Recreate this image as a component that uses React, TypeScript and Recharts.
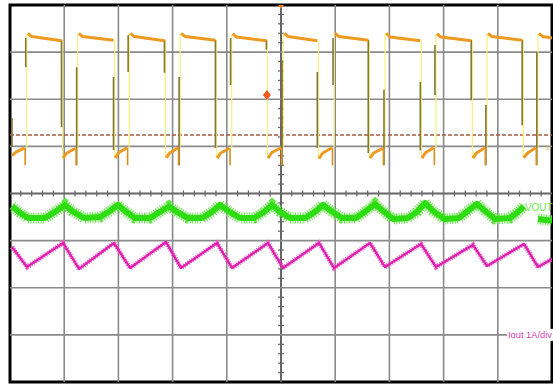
import React from 'react';
import { ComposedChart, Line, XAxis, YAxis, ReferenceLine, ReferenceDot, ReferenceArea } from 'recharts';

// Units: time in screen divisions (0..10), amplitude in divisions (-4..4)
const xTicks = [1, 2, 3, 4, 5, 6, 7, 8, 9];
const yTicks = [-3, -2, -1, 0, 1, 2, 3];

// CH1 switch node (orange)
const risingEdges = [0.31, 1.25, 2.2, 3.14, 4.09, 5.04, 5.98, 6.92, 7.86, 8.8, 9.74];
const fallingEdges = [0.96, 1.92, 2.86, 3.8, 4.74, 5.68, 6.62, 7.58, 8.52, 9.46];
const highStart = [3.4, 3.4, 3.4, 3.4, 3.39, 3.4, 3.4, 3.4, 3.39, 3.4, 3.4];
const highMid = [3.33, 3.33, 3.33, 3.33, 3.32, 3.33, 3.33, 3.32, 3.32, 3.33, 3.33];
const highEnd = [3.24, 3.25, 3.24, 3.25, 3.24, 3.24, 3.25, 3.24, 3.24, 3.25, 3.3];
const lowStart = [0.8, 0.75, 0.75, 0.76, 0.75, 0.75, 0.74, 0.75, 0.75, 0.75, 0.76];
const lowMid = [0.88, 0.86, 0.87, 0.86, 0.86, 0.87, 0.86, 0.86, 0.87, 0.86, 0.86];
const lowEnd = [0.97, 0.96, 0.97, 0.97, 0.96, 0.97, 0.97, 0.96, 0.97, 0.97, 0.97];
const spikeLow = 0.6;
// partial (dim) transition traces: [top, bottom]
const riseDark = [[3.3, 2.68], [2.68, 0.6], [3.36, 2.58], [2.47, 0.6], [3.3, 2.3], [2.83, 0.6], [3.3, 2.3], [2.2, 0.6], [3.15, 2.09], [1.88, 0.6], [3.0, 0.6]];
const fallDark = [[3.26, 1.41], [2.47, 0.92], [3.26, 2.56], [3.26, 0.97], [3.26, 3.05], [2.58, 0.97], [3.26, 0.86], [2.37, 0.92], [3.26, 1.98], [3.26, 1.45]];
const ch1Ground = 1.24;
const triggerMarker = { x: 4.74, y: 2.09 };

// VOUT (green)
const voutX = [0.037, 0.185, 0.332, 0.646, 0.83, 1.015, 1.144, 1.365, 1.661, 1.845, 1.993, 2.122, 2.306, 2.583, 2.768, 2.934, 3.081, 3.284, 3.542, 3.727, 3.875, 4.022, 4.244, 4.502, 4.686, 4.834, 4.982, 5.166, 5.443, 5.627, 5.775, 5.923, 6.125, 6.384, 6.568, 6.734, 6.882, 7.066, 7.343, 7.509, 7.657, 7.804, 8.007, 8.284, 8.45, 8.616, 8.764, 8.948, 9.225, 9.373, 9.483, 9.6, 9.742, 10.0];
const voutY = [-0.27, -0.41, -0.52, -0.52, -0.39, -0.24, -0.37, -0.52, -0.5, -0.37, -0.24, -0.37, -0.52, -0.52, -0.39, -0.27, -0.39, -0.52, -0.52, -0.39, -0.24, -0.37, -0.52, -0.52, -0.39, -0.24, -0.39, -0.52, -0.52, -0.39, -0.24, -0.37, -0.52, -0.52, -0.37, -0.22, -0.37, -0.54, -0.52, -0.39, -0.2, -0.37, -0.54, -0.52, -0.37, -0.22, -0.37, -0.54, -0.52, -0.39, -0.27, null, -0.54, -0.58];

// Iout (magenta)
const ioutX = [0.037, 0.314, 0.978, 1.273, 1.919, 2.214, 2.878, 3.155, 3.819, 4.096, 4.76, 5.037, 5.701, 5.978, 6.642, 6.919, 7.583, 7.86, 8.542, 8.801, 9.483, 9.742, 10.0];
const ioutY = [-1.135, -1.56, -1.05, -1.6, -1.05, -1.58, -1.03, -1.58, -1.05, -1.58, -1.05, -1.58, -1.05, -1.58, -1.05, -1.56, -1.07, -1.56, -1.09, -1.54, -1.07, -1.56, -1.39];

const labels = { vout: 'VOUT', iout: 'Iout 1A/div', ch1: '1' };

type P = { x: number; y: number | null };

function orangeLevels(): P[] {
  const pts: P[] = [];
  for (let i = 0; i < risingEdges.length; i++) {
    const start = i === 0 ? 0.04 : fallingEdges[i - 1] + 0.02;
    const r = risingEdges[i];
    pts.push({ x: start, y: lowStart[i] }, { x: start + 0.07, y: lowMid[i] }, { x: r - 0.04, y: lowEnd[i] }, { x: r - 0.035, y: null });
    const f = i < fallingEdges.length ? fallingEdges[i] - 0.01 : 10;
    pts.push({ x: r + 0.02, y: highStart[i] }, { x: r + 0.09, y: highMid[i] }, { x: f, y: highEnd[i] }, { x: f + 0.005, y: null });
  }
  return pts;
}

function segs(list: [number, number, number][]): P[] {
  const pts: P[] = [];
  list.forEach(([x, a, b]) => {
    pts.push({ x, y: a }, { x: x + 0.0001, y: b }, { x: x + 0.0002, y: null });
  });
  return pts;
}

const yellowData = segs([
  ...risingEdges.map((r, i) => [r, lowEnd[i], highStart[i]] as [number, number, number]),
  ...fallingEdges.map((f, i) => [f + 0.01, highEnd[i], lowStart[i + 1]] as [number, number, number]),
]);
const darkData = segs([
  ...riseDark.map((d, i) => [risingEdges[i] - 0.02, d[0], d[1]] as [number, number, number]),
  ...fallDark.map((d, i) => [fallingEdges[i] - 0.01, d[0], d[1]] as [number, number, number]),
  [0.037, 1.6, 0.99],
]);
const spikeData = segs(risingEdges.map((r, i) => [r - 0.03, lowEnd[i], spikeLow] as [number, number, number]));
const orangeData = orangeLevels();
const voutData: P[] = voutX.map((x, i) => ({ x, y: voutY[i] }));
const ioutData: P[] = ioutX.map((x, i) => ({ x, y: ioutY[i] }));

const minor: number[] = [];
for (let k = 1; k < 50; k++) if (k % 5 !== 0) minor.push(k / 5);
const minorY: number[] = [];
for (let k = -19; k < 20; k++) if (k % 5 !== 0) minorY.push(k / 5);

const FONT = '"Liberation Sans", Arial, sans-serif';

export default function App() {
  return (
    <div style={{ position: 'absolute', left: 0, top: 0, width: 553, height: 387, background: '#fff' }}>
      <ComposedChart width={553} height={387} margin={{ top: 5, right: 1, bottom: 5, left: 10 }}>
        <XAxis type="number" dataKey="x" domain={[0, 10]} hide allowDataOverflow />
        <YAxis type="number" domain={[-4, 4]} hide allowDataOverflow />
        {xTicks.map((t) => (
          <ReferenceLine key={'gx' + t} x={t} stroke={t === 5 ? '#666' : '#8a8a8a'} strokeWidth={t === 5 ? 2 : 1.6} />
        ))}
        {yTicks.map((t) => (
          <ReferenceLine key={'gy' + t} y={t} stroke={t === 0 ? '#666' : '#8a8a8a'} strokeWidth={t === 0 ? 2 : 1.6}
            segment={t === -3 ? [{ x: 0, y: t }, { x: 9.17, y: t }] : undefined} />
        ))}
        {minor.map((t) => (
          <ReferenceLine key={'mx' + t} segment={[{ x: t, y: -0.065 }, { x: t, y: 0.065 }]} stroke="#666" strokeWidth={1.2} />
        ))}
        {minorY.map((t) => (
          <ReferenceLine key={'my' + t} segment={[{ x: 4.945, y: t }, { x: 5.055, y: t }]} stroke="#666" strokeWidth={1.2} />
        ))}
        <ReferenceLine y={ch1Ground} stroke="#a85a40" strokeWidth={1.4} strokeDasharray="4 2" />
        <Line data={yellowData} dataKey="y" stroke="#f6ef80" strokeWidth={1.2} dot={false} activeDot={false} isAnimationActive={false} connectNulls={false} />
        <Line data={darkData} dataKey="y" stroke="#857738" strokeWidth={1.6} dot={false} activeDot={false} isAnimationActive={false} connectNulls={false} />
        <Line data={spikeData} dataKey="y" stroke="#d98f1c" strokeWidth={1.6} dot={false} activeDot={false} isAnimationActive={false} connectNulls={false} />
        <Line data={orangeData} dataKey="y" stroke="#ee9a22" strokeWidth={3} dot={false} activeDot={false} isAnimationActive={false} connectNulls={false} strokeLinejoin="round" />
        <Line data={voutData} dataKey="y" stroke="#5ee840" strokeWidth={11} strokeDasharray="1 1.5" dot={false} activeDot={false} isAnimationActive={false} connectNulls={false} />
        <Line data={voutData} dataKey="y" stroke="#2edc12" strokeWidth={6} dot={false} activeDot={false} isAnimationActive={false} connectNulls={false} strokeLinejoin="round" />
        <Line data={ioutData} dataKey="y" stroke="#ee60c8" strokeWidth={5} strokeDasharray="1 1.5" dot={false} activeDot={false} isAnimationActive={false} />
        <Line data={ioutData} dataKey="y" stroke="#e020b0" strokeWidth={2.4} dot={false} activeDot={false} isAnimationActive={false} strokeLinejoin="round" />
        <ReferenceDot x={triggerMarker.x} y={triggerMarker.y} r={5} isFront
          shape={(p: any) => (
            <polygon points={`${p.cx},${p.cy - 5} ${p.cx + 4},${p.cy} ${p.cx},${p.cy + 5} ${p.cx - 4},${p.cy}`} fill="#f05a1e" />
          )} />
        <ReferenceDot x={5} y={4} r={3} isFront
          shape={(p: any) => (
            <polygon points={`${p.cx - 3},${p.cy} ${p.cx + 3},${p.cy} ${p.cx},${p.cy + 4}`} fill="#f07a1e" />
          )} />
        <ReferenceDot x={9.5} y={-0.29} r={2} isFront
          shape={(p: any) => (
            <text x={p.cx} y={p.cy} dy={4} fontSize={10} fontFamily={FONT} fill="#6fe64a">{labels.vout}</text>
          )} />
        <ReferenceDot x={9.17} y={-3} r={2} isFront
          shape={(p: any) => (
            <g>
              <rect x={p.cx} y={p.cy - 6} width={46} height={12} fill="#fff" />
              <text x={p.cx + 1} y={p.cy} dy={3.5} fontSize={9} fontFamily={FONT} fill="#d040b0" textLength={44} lengthAdjust="spacingAndGlyphs">{labels.iout}</text>
            </g>
          )} />
        <ReferenceDot x={9.88} y={0.98} r={2} isFront
          shape={(p: any) => (
            <text x={p.cx} y={p.cy} dy={3} fontSize={8} fontFamily={FONT} fill="#d9c060">{labels.ch1}</text>
          )} />
        <ReferenceArea x1={0} x2={10} y1={-4} y2={4} fill="none" stroke="#000" strokeWidth={3} ifOverflow="visible" />
      </ComposedChart>
    </div>
  );
}
